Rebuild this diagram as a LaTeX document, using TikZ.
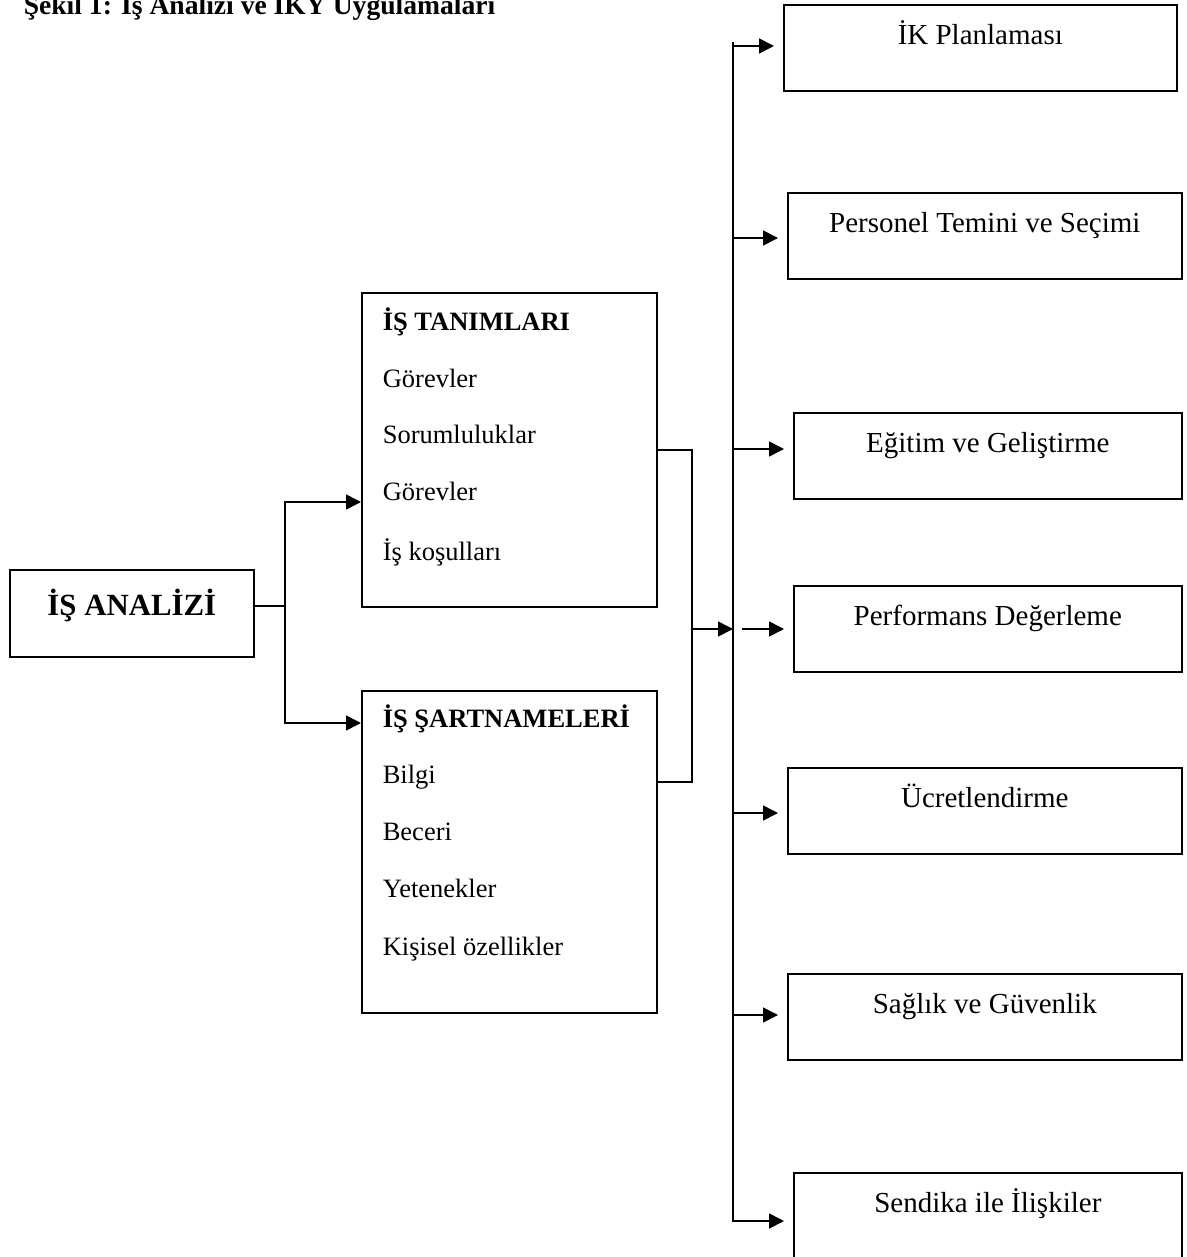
\documentclass[tikz,border=0pt]{standalone}
\usepackage{fontspec}
\setmainfont{Liberation Serif}
\usetikzlibrary{arrows.meta, positioning}
\newcommand\rtext{\fontsize{14.5}{17}\selectfont}
\newcommand\ltext{\fontsize{13.25}{16}\selectfont}
\newcommand\atext{\fontsize{15.4}{18}\selectfont\bfseries}
\newcommand\ttext{\fontsize{13.8}{16}\selectfont\bfseries}
\tikzset{
    chart/.style={x=0.5pt, y=-0.5pt, line width=0.8pt, >={Triangle[length=7.5pt, width=7.5pt]}},
    box/.style={draw, inner sep=0pt, anchor=north west},
    rbox/.style={box, font=\rtext, text height=20pt, text depth=23pt},
    item/.style={anchor=base west, inner sep=0pt, font=\ltext},
    head/.style={item, font=\ltext\bfseries},
    % arrows into the right column stop short of the box
    gap/.style={shorten >=4.5pt},
}
\begin{document}
\begin{tikzpicture}[chart]
    \useasboundingbox (0,0) rectangle (1187,1257);

    \node[anchor=base west, inner sep=0pt, font=\ttext] (ttl) at (23,15) {Şekil 1: İş Analizi ve İKY Uygulamaları};

    % left column
    \node[box, font=\atext, minimum width=122pt, text height=23pt, text depth=20.5pt] (ana) at (9,569) {İŞ ANALİZİ};

    \node[box, minimum width=147.5pt, minimum height=157pt] (tan) at (361,292) {};
    \node[head] (tan0) at (382,330) {İŞ TANIMLARI};
    \node[item] (tan1) at (382,387) {Görevler};
    \node[item] (tan2) at (382,443) {Sorumluluklar};
    \node[item] (tan3) at (382,500) {Görevler};
    \node[item] (tan4) at (382,560) {İş koşulları};

    \node[box, minimum width=147.5pt, minimum height=161pt] (sart) at (361,690) {};
    \node[head] (sart0) at (382,727) {İŞ ŞARTNAMELERİ};
    \node[item] (sart1) at (382,783) {Bilgi};
    \node[item] (sart2) at (382,840) {Beceri};
    \node[item] (sart3) at (382,897) {Yetenekler};
    \node[item] (sart4) at (382,955) {Kişisel özellikler};

    % right column
    \node[rbox, minimum width=196.5pt] (ikp) at (783,4)   {İK Planlaması};
    \node[rbox, minimum width=197pt]   (pts) at (787,192) {Personel Temini ve Seçimi};
    \node[rbox, minimum width=194pt]   (egt) at (793,412) {Eğitim ve Geliştirme};
    \node[rbox, minimum width=194pt]   (prf) at (793,585) {Performans Değerleme};
    \node[rbox, minimum width=197pt]   (ucr) at (787,767) {Ücretlendirme};
    \node[rbox, minimum width=197pt]   (sag) at (787,973) {Sağlık ve Güvenlik};
    \node[rbox, minimum width=194pt, text depth=26pt] (snd) at (793,1172) {Sendika ile İlişkiler};

    % connectors
    \coordinate (spl) at (285,606);
    \coordinate (mrg) at (692,629);
    \coordinate (bus) at (733,42);
    \coordinate (prfin) at (742,629);

    \draw (ana.east |- spl) -- (spl);
    \draw[->] (spl) |- (tan.west |- 0,502);
    \draw[->] (spl) |- (sart.west |- 0,723);

    \draw (tan.east) -| (mrg) |- (sart.east |- 0,782);
    \draw[->] (mrg) -- (mrg -| bus);

    \draw[->, gap] (bus) |- (snd.west |- 0,1221);
    \draw[->, gap] (bus |- 0,46)   -- (ikp.west |- 0,46);
    \draw[->, gap] (bus |- 0,238)  -- (pts.west |- 0,238);
    \draw[->, gap] (bus |- 0,449)  -- (egt.west |- 0,449);
    \draw[->, gap] (prfin)         -- (prf.west |- prfin);
    \draw[->, gap] (bus |- 0,813)  -- (ucr.west |- 0,813);
    \draw[->, gap] (bus |- 0,1015) -- (sag.west |- 0,1015);
\end{tikzpicture}
\end{document}
